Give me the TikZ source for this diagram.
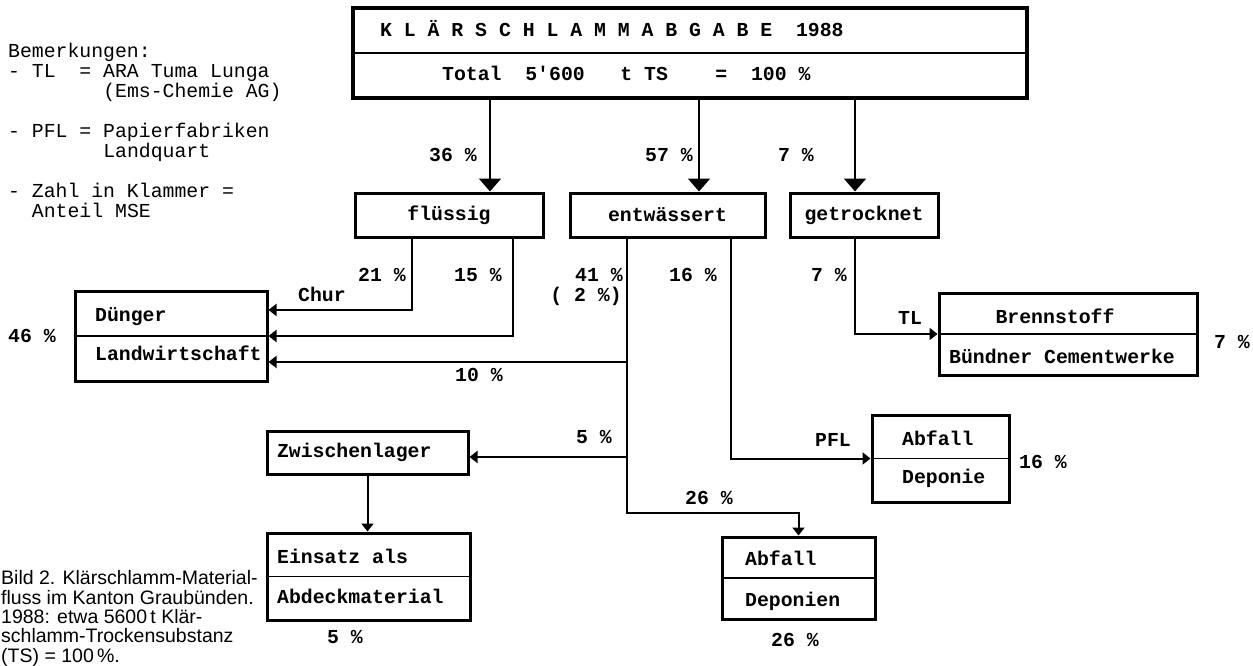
\documentclass[tikz,border=0pt]{standalone}
\usepackage{fontspec}
\setmainfont{Liberation Serif}
\setsansfont{Liberation Sans}
\setmonofont{Liberation Mono}
\usepackage{tikz}
\usetikzlibrary{positioning,calc,arrows.meta}

\begin{document}
\begin{tikzpicture}[
    x=1pt, y=-1pt,
    every node/.style={font=\fontsize{19.8}{20}\selectfont\ttfamily\bfseries, inner sep=0pt},
    block/.style={
        draw,
        line width=3pt,
        minimum height=44pt
    },
    divider/.style={line width=1.4pt},
    link/.style={line width=2pt},
    arrow/.style={-{Triangle[width=12pt,length=8pt]}, line width=2pt},
    bigarrow/.style={-{Triangle[width=22pt,length=13pt]}, line width=2pt},
    pct/.style={anchor=base},
    entry/.style={anchor=base west}
]
\useasboundingbox (0,0) rectangle (1253,666);

% notes and caption (anchored at the last line)
\node[anchor=base west, align=left, font=\fontsize{19.8}{20}\selectfont\ttfamily] (notes) at (8,217)
    {Bemerkungen:\\
     -~TL~~=~ARA~Tuma~Lunga\\
     ~~~~~~~~(Ems-Chemie~AG)\\[20pt]
     -~PFL~=~Papierfabriken\\
     ~~~~~~~~Landquart\\[20pt]
     -~Zahl~in~Klammer~=\\
     ~~Anteil~MSE};

\node[anchor=base west, align=left, font=\fontsize{19.5}{19.3}\selectfont\sffamily\mdseries] (caption) at (1,662)
    {Bild 2. Klärschlamm-Material-\\
     fluss im Kanton Graubünden.\\
     1988: etwa 5600\,t Klär-\\
     schlamm-Trockensubstanz\\
     (TS) = 100\,\%.};

% head
\node[block, line width=3.5pt, minimum width=674pt, minimum height=90pt] (head) at (690,53) {};
\draw[divider] (head.west) -- (head.east);
\node[entry] (headtitle) at (380,37) {K~L~Ä~R~S~C~H~L~A~M~M~A~B~G~A~B~E~~1988};
\node[entry] (headtotal) at (442,81) {Total~~5'600~~~t~TS~~~~=~~100~\%};

% row 1
\node[block, minimum width=188pt] (fluessig) at (449,215) {flüssig};
\node[block, minimum width=195pt] (entw) at (667.5,215) {entwässert};
\node[block, minimum width=148pt] (getr) at (864,215) {getrocknet};

% targets
\node[block, minimum width=192pt, minimum height=90pt] (dung) at (171,336) {};
\draw[divider] (dung.west) -- (dung.east);
\node[entry] (dungtop) at (95,321) {Dünger};
\node[entry] (dungbot) at (95,360) {Landwirtschaft};

\node[block, minimum width=258pt, minimum height=82pt] (bren) at (1068,334) {};
\draw[divider] (bren.west) -- (bren.east);
\node[pct] (brentop) at (1055,323) {Brennstoff};
\node[pct] (brenbot) at (1062,363) {Bündner~Cementwerke};

\node[block, minimum width=137pt, minimum height=87pt] (abf1) at (940.5,458.5) {};
\draw[divider] (abf1.west) -- (abf1.east);
\node[entry] (abf1top) at (902,445) {Abfall};
\node[entry] (abf1bot) at (902,483) {Deponie};

\node[block, minimum width=201pt, minimum height=43pt, text width=181pt, align=left] (zwi) at (367.5,452.5) {Zwischenlager};

\node[block, minimum width=203pt, minimum height=87pt] (ein) at (368.5,576.5) {};
\draw[divider] (ein.west) -- (ein.east);
\node[entry] (eintop) at (277,563) {Einsatz~als};
\node[entry] (einbot) at (277,603) {Abdeckmaterial};

\node[block, minimum width=153pt, minimum height=82pt] (abf2) at (798.5,578) {};
\draw[divider] (abf2.west) -- (abf2.east);
\node[entry] (abf2top) at (745,565) {Abfall};
\node[entry] (abf2bot) at (745,606) {Deponien};

% lanes and junctions
\coordinate (lane36) at (490,0);
\coordinate (lane57) at (699,0);
\coordinate (lane7) at (855,0);
\coordinate (lane21) at (412,0);
\coordinate (lane15) at (513,0);
\coordinate (lane41) at (627,0);
\coordinate (lane16) at (731,0);
\coordinate (j10) at (627,362);
\coordinate (j5) at (627,457);
\coordinate (knee26) at (627,513);

% arrows from head
\draw[bigarrow] (head.south -| lane36) -- (fluessig.north -| lane36);
\draw[bigarrow] (head.south -| lane57) -- (entw.north -| lane57);
\draw[bigarrow] (head.south -| lane7) -- (getr.north -| lane7);

% fluessig
\draw[arrow] (fluessig.south -| lane21) |- ($(dung.north east)!0.22!(dung.south east)$);
\draw[arrow] (fluessig.south -| lane15) |- (dung.east);

% entwaessert
\draw[arrow] (entw.south -| lane41) -- (knee26) -| (abf2.north);
\draw[arrow] (j10) -- (j10 -| dung.east);
\draw[arrow] (j5) -- (j5 -| zwi.east);
\draw[arrow] (entw.south -| lane16) |- (abf1.west);

% getrocknet
\draw[arrow] (getr.south -| lane7) |- (bren.west);

% storage
\draw[arrow] (zwi.south) -- (zwi.south |- ein.north);

% shares
\node[pct] (p36) at (453,161) {36~\%};
\node[pct] (p57) at (669,161) {57~\%};
\node[pct] (p7top) at (796,161) {7~\%};
\node[pct] (p21) at (382,281) {21~\%};
\node[pct] (p15) at (478,281) {15~\%};
\node[pct] (chur) at (322,301) {Chur};
\node[pct] (p10) at (479,381) {10~\%};
\node[pct] (p46) at (32,342) {46~\%};
\node[pct] (p41) at (599,281) {41~\%};
\node[pct] (p2) at (586,301) {(~2~\%)};
\node[pct] (p16) at (693,281) {16~\%};
\node[pct] (p7mid) at (829,281) {7~\%};
\node[pct] (tl) at (910,324) {TL};
\node[pct] (p7right) at (1232,348) {7~\%};
\node[pct] (p5) at (594,443) {5~\%};
\node[pct] (pfl) at (833,446) {PFL};
\node[pct] (p16right) at (1043,468) {16~\%};
\node[pct] (p26) at (709,504) {26~\%};
\node[pct] (p26low) at (795,646) {26~\%};
\node[pct] (p5low) at (345,643) {5~\%};
\end{tikzpicture}
\end{document}
